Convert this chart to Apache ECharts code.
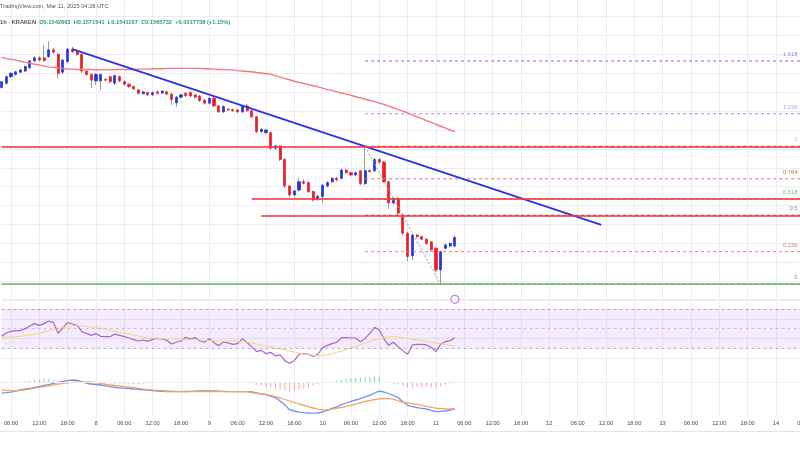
<!DOCTYPE html>
<html><head><meta charset="utf-8">
<script src="https://cdn.jsdelivr.net/npm/echarts/dist/echarts.min.js"></script>
<style>html,body{margin:0;padding:0;background:#fff}#c{width:800px;height:450px}</style>
</head><body><div id="c"></div>
<script>
// Hours counted from 2025-03-07 00:00 UTC; one candle per hour (1h, KRAKEN)
const startHour = 4;      // first candle: Mar 7 04:00
const axisEndHour = 174;  // right end of the time axis
const candleOpen = [
0.1962,0.1974,0.1991,0.1997,0.2003,0.2006,0.2015,0.2033,0.2041,0.2041,
0.2044,0.2062,0.2050,0.2003,0.2031,0.2064,0.2057,0.2050,0.2006,0.1997,
0.1980,0.1980,0.1984,0.1991,0.1974,0.1991,0.1978,0.1971,0.1965,0.1956,
0.1946,0.1949,0.1943,0.1951,0.1948,0.1951,0.1945,0.1922,0.1937,0.1947,
0.1949,0.1943,0.1940,0.1929,0.1921,0.1934,0.1914,0.1898,0.1905,0.1904,
0.1903,0.1898,0.1914,0.1901,0.1885,0.1846,0.1843,0.1843,0.1802,0.1808,
0.1772,0.1702,0.1678,0.1691,0.1713,0.1711,0.1687,0.1667,0.1674,0.1702,
0.1713,0.1722,0.1722,0.1744,0.1737,0.1731,0.1742,0.1708,0.1743,0.1742,
0.1772,0.1765,0.1713,0.1657,0.1669,0.1625,0.1577,0.1517,0.1572,0.1568,
0.1561,0.1554,0.1537,0.1480,0.1537,0.1543,0.1542863];
const candleClose = [
0.1978,0.1991,0.2000,0.2004,0.2009,0.2018,0.2033,0.2041,0.2035,0.2034,
0.2062,0.2056,0.2000,0.2035,0.2064,0.2057,0.2050,0.2006,0.1997,0.1982,
0.1997,0.1997,0.1982,0.1978,0.1994,0.1980,0.1971,0.1965,0.1959,0.1947,
0.1951,0.1943,0.1949,0.1947,0.1953,0.1945,0.1931,0.1937,0.1943,0.1941,
0.1940,0.1937,0.1928,0.1921,0.1934,0.1914,0.1898,0.1912,0.1903,0.1901,
0.1898,0.1912,0.1901,0.1885,0.1846,0.1852,0.1850,0.1802,0.1808,0.1772,
0.1702,0.1678,0.1689,0.1713,0.1709,0.1687,0.1665,0.1675,0.1704,0.1711,
0.1722,0.1718,0.1744,0.1737,0.1731,0.1737,0.1708,0.1743,0.1740,0.1772,
0.1765,0.1713,0.1657,0.1669,0.1630,0.1577,0.1515,0.1572,0.1568,0.1561,
0.1550,0.1533,0.1480,0.1528,0.1546,0.1550,0.1565732];
const candleLow = [
0.1957,0.1969,0.1988,0.1994,0.2000,0.2003,0.2011,0.2029,0.2031,0.2030,
0.2041,0.2052,0.1987,0.1998,0.2027,0.2054,0.2047,0.2001,0.1993,0.1961,
0.1969,0.1956,0.1978,0.1973,0.1969,0.1976,0.1968,0.1961,0.1955,0.1944,
0.1943,0.1939,0.1940,0.1944,0.1945,0.1943,0.1916,0.1912,0.1933,0.1937,
0.1937,0.1933,0.1924,0.1917,0.1917,0.1910,0.1895,0.1895,0.1900,0.1898,
0.1895,0.1895,0.1898,0.1882,0.1842,0.1842,0.1839,0.1797,0.1797,0.1768,
0.1697,0.1673,0.1671,0.1687,0.1706,0.1683,0.1661,0.1662,0.1657,0.1698,
0.1710,0.1714,0.1719,0.1734,0.1727,0.1727,0.1704,0.1704,0.1736,0.1739,
0.1761,0.1710,0.1641,0.1652,0.1625,0.1572,0.1503,0.1506,0.1564,0.1558,
0.1546,0.1529,0.1474,0.1441,0.1534,0.1539,0.1541107];
const candleHigh = [
0.1982,0.1996,0.2003,0.2007,0.2011,0.2021,0.2035,0.2045,0.2045,0.2075,
0.2085,0.2066,0.2054,0.2039,0.2067,0.2070,0.2060,0.2052,0.2009,0.2001,
0.2001,0.2000,0.1986,0.1994,0.1997,0.1994,0.1981,0.1973,0.1968,0.1959,
0.1953,0.1952,0.1952,0.1955,0.1956,0.1955,0.1948,0.1940,0.1945,0.1950,
0.1952,0.1945,0.1943,0.1932,0.1937,0.1937,0.1916,0.1915,0.1907,0.1907,
0.1906,0.1915,0.1919,0.1904,0.1888,0.1855,0.1853,0.1846,0.1810,0.1810,
0.1776,0.1704,0.1691,0.1723,0.1720,0.1714,0.1690,0.1678,0.1707,0.1714,
0.1726,0.1726,0.1748,0.1747,0.1740,0.1740,0.1744,0.1806,0.1746,0.1776,
0.1776,0.1768,0.1716,0.1673,0.1673,0.1629,0.1580,0.1576,0.1575,0.1571,
0.1564,0.1556,0.1540,0.1531,0.1550,0.1554,0.1571541];
const movingAvg = [
0.2042,0.2039,0.2037,0.2035,0.2032,0.2029,0.2027,0.2024,0.2022,0.2019,
0.2017,0.2016,0.2014,0.2013,0.2011,0.2011,0.2010,0.2010,0.2010,0.2010,
0.2009,0.2009,0.2009,0.2009,0.2010,0.2010,0.2010,0.2010,0.2010,0.2011,
0.2011,0.2011,0.2012,0.2012,0.2012,0.2013,0.2013,0.2013,0.2013,0.2013,
0.2013,0.2013,0.2013,0.2012,0.2012,0.2011,0.2010,0.2010,0.2009,0.2009,
0.2007,0.2006,0.2005,0.2004,0.2002,0.2001,0.1999,0.1998,0.1994,0.1990,
0.1986,0.1983,0.1979,0.1976,0.1973,0.1970,0.1967,0.1964,0.1961,0.1957,
0.1955,0.1951,0.1948,0.1945,0.1942,0.1938,0.1935,0.1932,0.1928,0.1925,
0.1921,0.1918,0.1913,0.1909,0.1904,0.1900,0.1895,0.1890,0.1885,0.1880,
0.1875,0.1870,0.1865,0.1860,0.1855,0.1850,0.1846];
const rsiValues = [
42.2,45.6,47.3,47.9,47.9,50.0,52.7,55.1,53.4,55.1,
57.8,56.1,45.2,51.3,56.1,54.7,53.4,46.9,45.2,43.2,
44.9,42.2,41.8,41.8,44.5,43.2,41.8,40.5,38.8,37.4,
38.4,37.1,39.1,40.1,39.5,38.1,34.4,36.1,37.4,41.2,
39.5,40.8,37.4,36.1,39.8,35.7,32.7,36.4,35.4,34.0,
34.7,39.8,35.7,31.7,26.6,27.9,24.5,25.9,22.2,23.2,
17.4,14.7,17.4,23.9,24.9,23.9,21.8,23.9,30.6,33.0,
34.7,36.1,40.8,40.8,40.5,40.5,36.7,40.1,45.2,51.3,
48.6,39.5,33.0,36.1,31.7,27.6,23.9,33.4,34.0,34.0,
33.4,31.0,26.6,34.4,36.7,37.8,40.8];
const rsiMA = [
40.8,41.2,41.5,41.8,42.2,42.9,43.5,44.5,45.6,46.6,
47.9,49.0,50.0,51.0,52.0,52.7,53.0,52.7,52.0,51.7,
51.0,50.3,49.3,48.3,47.3,46.3,45.6,44.5,43.5,42.5,
41.5,40.8,40.5,40.1,39.8,39.5,39.5,39.3,39.1,39.1,
38.8,38.8,38.4,38.1,37.8,37.8,37.4,37.4,37.4,37.4,
37.1,36.7,36.1,35.4,34.4,33.4,32.3,31.3,30.3,29.3,
28.3,27.2,26.2,25.2,24.2,23.5,22.8,22.2,22.5,23.2,
24.5,25.9,27.2,28.9,30.3,32.0,33.7,35.4,37.1,38.4,
39.8,41.2,41.5,41.8,41.5,40.8,40.1,39.5,38.4,37.8,
36.7,36.1,35.4,34.7,33.7,33.0,32.7];
const macdLine = [
-0.00105,-0.00100,-0.00094,-0.00083,-0.00073,-0.00063,-0.00056,-0.00046,-0.00036,-0.00026,
-0.00020,-0.00006,0.00004,0.00014,0.00020,0.00027,0.00024,0.00010,-0.00006,-0.00013,
-0.00018,-0.00023,-0.00031,-0.00040,-0.00048,-0.00051,-0.00055,-0.00058,-0.00063,-0.00066,
-0.00071,-0.00075,-0.00078,-0.00083,-0.00086,-0.00090,-0.00090,-0.00090,-0.00090,-0.00088,
-0.00086,-0.00084,-0.00083,-0.00083,-0.00083,-0.00083,-0.00084,-0.00087,-0.00090,-0.00090,
-0.00090,-0.00090,-0.00090,-0.00092,-0.00103,-0.00113,-0.00120,-0.00136,-0.00150,-0.00183,
-0.00223,-0.00270,-0.00283,-0.00295,-0.00300,-0.00303,-0.00305,-0.00303,-0.00293,-0.00276,
-0.00256,-0.00243,-0.00220,-0.00203,-0.00186,-0.00173,-0.00160,-0.00141,-0.00126,-0.00103,
-0.00085,-0.00093,-0.00108,-0.00130,-0.00150,-0.00190,-0.00226,-0.00240,-0.00250,-0.00256,
-0.00263,-0.00276,-0.00290,-0.00286,-0.00283,-0.00273,-0.00263];
const signalLine = [
-0.00074,-0.00077,-0.00080,-0.00082,-0.00076,-0.00070,-0.00063,-0.00054,-0.00046,-0.00040,
-0.00032,-0.00024,-0.00014,-0.00006,-0.00002,0.00004,0.00007,0.00009,0.00007,0.00005,
0.00000,-0.00007,-0.00017,-0.00023,-0.00028,-0.00034,-0.00040,-0.00045,-0.00050,-0.00057,
-0.00064,-0.00070,-0.00075,-0.00077,-0.00080,-0.00083,-0.00085,-0.00087,-0.00089,-0.00090,
-0.00090,-0.00090,-0.00090,-0.00090,-0.00090,-0.00090,-0.00090,-0.00090,-0.00090,-0.00090,
-0.00090,-0.00090,-0.00090,-0.00099,-0.00104,-0.00110,-0.00116,-0.00126,-0.00140,-0.00153,
-0.00168,-0.00183,-0.00198,-0.00213,-0.00226,-0.00240,-0.00253,-0.00265,-0.00271,-0.00271,
-0.00265,-0.00256,-0.00246,-0.00237,-0.00227,-0.00214,-0.00201,-0.00187,-0.00178,-0.00170,
-0.00162,-0.00158,-0.00159,-0.00164,-0.00183,-0.00194,-0.00202,-0.00209,-0.00216,-0.00227,
-0.00236,-0.00246,-0.00254,-0.00258,-0.00262,-0.00263,-0.00263];
const macdHist = [
-0.00007,-0.00006,-0.00004,-0.00002,0.00001,0.00017,0.00020,0.00027,0.00033,0.00040,
0.00043,0.00027,0.00012,0.00010,0.00010,0.00008,0.00004,-0.00004,-0.00013,-0.00020,
-0.00020,-0.00017,-0.00023,-0.00020,-0.00008,-0.00010,-0.00013,-0.00017,-0.00020,-0.00017,
-0.00010,-0.00007,-0.00003,-0.00002,-0.00001,-0.00001,-0.00003,-0.00002,0.00001,0.00002,
0.00002,0.00003,0.00002,0.00001,0.00002,0.00001,-0.00001,-0.00002,-0.00001,-0.00001,
0,0.00001,-0.00003,-0.00007,-0.00023,-0.00030,-0.00040,-0.00050,-0.00057,-0.00070,
-0.00080,-0.00097,-0.00080,-0.00070,-0.00060,-0.00050,-0.00030,-0.00017,-0.00003,0.00005,
0.00010,0.00020,0.00027,0.00037,0.00043,0.00050,0.00050,0.00057,0.00060,0.00067,
0.00060,0.00010,0.00003,-0.00010,-0.00017,-0.00030,-0.00050,-0.00057,-0.00040,-0.00047,
-0.00043,-0.00050,-0.00057,-0.00040,-0.00020,-0.00010,0];
// drawn annotations (hour, price)
const trendHours = [19, 131];
const trendPrices = [0.2064, 0.1599];
const fibDiagHours = [81, 97];
const fibDiagPrices = [0.1806, 0.1441];
const resistPrices = [0.1806, 0.1667, 0.1623];
const resistStartHours = [4, 57, 59];
const supportPrice = 0.1442;
const fibLevels = [0, 0.236, 0.5, 0.618, 0.764, 1, 1.236, 1.618];
const fibLow = 0.1442, fibHigh = 0.1807, fibStartHour = 81;
const fibLineColors = ['#8d8d8d','#f07a7a','#a03a3a','#5cb85c','#ee6b6b','#b04444','#b98ae6','#6f6ff0'];
const fibLabelColors = ['#707070','#d9534f','#6b6b6b','#4caf50','#c0392b','#86a9d4','#b07fd9','#6f6fe0'];
const alertHour = 100, alertPrice = 0.1402;
const headerLine1 = 'TradingView.com, Mar 11, 2025 04:28 UTC';
const headerLine2 = ['1h - KRAKEN', 'O0.1542863', 'H0.1571541', 'L0.1541107', 'C0.1565732', '+0.0017738 (+1.15%)'];

const hours = [];
for (let h = startHour; h <= axisEndHour; h++) hours.push(h);
const cats = hours.map(h => 'Mar ' + (7 + Math.floor(h / 24)) + ' ' + String(h % 24).padStart(2, '0') + ':00');
const idx = h => h - startHour;
const tickLabel = i => { const h = hours[i], hh = h % 24; return hh === 0 ? String(7 + h / 24) : String(hh).padStart(2, '0') + ':00'; };
const isTick = i => hours[i] % 6 === 0;
const lastIdx = hours.length - 1;

const FONT = 'Liberation Sans, Arial, sans-serif';
const GRID_COLOR = '#ebedf2';
const UP = '#2135e0', DOWN = '#ee1c24';

const ohlc = candleOpen.map((o, i) => [o, candleClose[i], candleLow[i], candleHigh[i]]);
const bodies = candleOpen.map((o, i) => [o, candleClose[i], Math.min(o, candleClose[i]), Math.max(o, candleClose[i])]);

function xAxisFor(gi, showLabels) {
  return {
    type: 'category', gridIndex: gi, data: cats, boundaryGap: false,
    axisTick: { show: false },
    axisLine: { show: showLabels, lineStyle: { color: '#c3c6cc', width: 1 } },
    axisLabel: { show: showLabels, interval: (i) => isTick(i), formatter: (v, i) => tickLabel(i),
      fontSize: 5.7, color: '#4a4a4a', margin: 4, fontFamily: FONT, hideOverlap: false },
    splitLine: { show: true, interval: (i) => isTick(i), lineStyle: { color: GRID_COLOR, width: 1 } }
  };
}
const gridBase = { left: 1.56, width: 802.7, outerBoundsMode: 'none', containLabel: false };

// resistance / support lines series (markLines on an empty-style helper)
const levelLines = [];
resistPrices.forEach((p, k) => {
  const st = { color: 'rgba(240,60,60,0.8)', width: 2, type: 'solid' };
  levelLines.push([{ coord: [idx(resistStartHours[k]), p], lineStyle: st }, { coord: [lastIdx, p], lineStyle: st }]);
});
const gst = { color: '#5cb860', width: 1.6, type: 'solid' };
levelLines.push([{ coord: [0, supportPrice], lineStyle: gst }, { coord: [lastIdx, supportPrice], lineStyle: gst }]);

const fibSeries = fibLevels.map((L, k) => {
  const p = fibLow + L * (fibHigh - fibLow);
  return { type: 'line', name: 'fib ' + L, xAxisIndex: 0, yAxisIndex: 0, silent: true,
    data: [[idx(fibStartHour), p], [lastIdx, p]], showSymbol: false, symbol: 'none',
    lineStyle: { color: fibLineColors[k], width: 1, type: [3, 3] }, z: 3 };
});

const option = {
  animation: false,
  backgroundColor: '#ffffff',
  title: [
    { text: headerLine1, left: 0, top: 3, padding: 0,
      textStyle: { fontSize: 5.7, color: '#555', fontWeight: 'normal', fontFamily: FONT } },
    { text: '{g|' + headerLine2[0] + '}  ' + headerLine2.slice(1).map(s => '{v|' + s + '}').join('  '),
      left: 0, top: 19, padding: 0,
      textStyle: { fontSize: 5.7, fontFamily: FONT, rich: {
        g: { fontSize: 5.7, color: '#555', fontFamily: FONT },
        v: { fontSize: 5.7, color: '#2e9e6a', fontFamily: FONT } } } }
  ],
  graphic: [{ type: 'line', silent: true, shape: { x1: 0, y1: 431.5, x2: 800, y2: 431.5 }, style: { stroke: '#e3e5e9', lineWidth: 1 } }],
  grid: [
    Object.assign({ top: -2.27, height: 302.35 }, gridBase),
    Object.assign({ top: 299.2, height: 58.9 }, gridBase),
    Object.assign({ top: 358.1, height: 58.6 }, gridBase)
  ],
  xAxis: [xAxisFor(0, false), xAxisFor(1, false), xAxisFor(2, true)],
  yAxis: [
    { type: 'value', gridIndex: 0, min: 0.14, max: 0.22, interval: 0.005, scale: true,
      axisLabel: { show: false }, axisLine: { show: false }, axisTick: { show: false },
      splitLine: { show: true, lineStyle: { color: GRID_COLOR, width: 1 } } },
    { type: 'value', gridIndex: 1, min: 20, max: 80, interval: 20,
      axisLabel: { show: false }, axisLine: { show: false }, axisTick: { show: false },
      splitLine: { show: true, lineStyle: { color: GRID_COLOR, width: 1 } } },
    { type: 'value', gridIndex: 2, min: -0.0034, max: 0.00246,
      axisLabel: { show: false }, axisLine: { show: false }, axisTick: { show: false },
      splitLine: { show: false } }
  ],
  series: [
    { type: 'candlestick', name: 'wicks', xAxisIndex: 0, yAxisIndex: 0, data: ohlc, barWidth: 1,
      itemStyle: { color: '#9a9a9a', color0: '#9a9a9a', borderColor: '#9a9a9a', borderColor0: '#9a9a9a', borderWidth: 1 },
      silent: true,
      markLine: { silent: true, symbol: ['none', 'none'], label: { show: false }, animation: false, data: levelLines } },
    { type: 'candlestick', name: 'bodies', xAxisIndex: 0, yAxisIndex: 0, data: bodies, barWidth: 2.6,
      itemStyle: { color: UP, color0: DOWN, borderColor: UP, borderColor0: DOWN, borderWidth: 0.7 },
      silent: true },
    ...fibSeries,
    { type: 'line', name: 'MA', xAxisIndex: 0, yAxisIndex: 0, data: movingAvg, showSymbol: false, symbol: 'none',
      lineStyle: { color: '#f47a7f', width: 1.4 }, silent: true },
    { type: 'line', name: 'trend', xAxisIndex: 0, yAxisIndex: 0,
      data: trendHours.map((h, k) => [idx(h), trendPrices[k]]), showSymbol: false, symbol: 'none',
      lineStyle: { color: '#2a35e6', width: 2 }, silent: true },
    { type: 'line', name: 'fibDiag', xAxisIndex: 0, yAxisIndex: 0,
      data: fibDiagHours.map((h, k) => [idx(h), fibDiagPrices[k]]), showSymbol: false, symbol: 'none',
      lineStyle: { color: '#a0a0a0', width: 1, type: [2, 2] }, silent: true },
    { type: 'scatter', name: 'fibLabels', xAxisIndex: 0, yAxisIndex: 0, symbolSize: 0, silent: true,
      data: fibLevels.map((L, k) => ({ value: [lastIdx - 1, fibLow + L * (fibHigh - fibLow)],
        label: { color: fibLabelColors[k] } })),
      label: { show: true, position: 'left', distance: 2, offset: [0, -6.5], fontSize: 5.8, fontFamily: FONT,
        formatter: (p) => String(fibLevels[p.dataIndex]) } },
    { type: 'scatter', name: 'alert', xAxisIndex: 0, yAxisIndex: 0, silent: true,
      data: [[idx(alertHour), alertPrice]], symbol: 'circle', symbolSize: 8,
      itemStyle: { color: 'rgba(0,0,0,0)', borderColor: '#b36ad6', borderWidth: 1.2 } },
    { type: 'line', name: 'RSI', xAxisIndex: 1, yAxisIndex: 1, data: rsiValues, showSymbol: false, symbol: 'none',
      clip: false, lineStyle: { color: '#a864c8', width: 1.2 }, silent: true,
      markArea: { silent: true, itemStyle: { color: 'rgba(155,80,230,0.11)' }, data: [[{ yAxis: 30 }, { yAxis: 70 }]] },
      markLine: { silent: true, symbol: ['none', 'none'], label: { show: false },
        data: [
          { yAxis: 70, lineStyle: { color: 'rgba(140,110,180,0.55)', width: 1, type: [3, 3] } },
          { yAxis: 50, lineStyle: { color: 'rgba(140,110,180,0.35)', width: 1, type: [3, 3] } },
          { yAxis: 30, lineStyle: { color: 'rgba(140,110,180,0.55)', width: 1, type: [3, 3] } }
        ] } },
    { type: 'line', name: 'RSI MA', xAxisIndex: 1, yAxisIndex: 1, data: rsiMA, showSymbol: false, symbol: 'none',
      clip: false, lineStyle: { color: '#f7d77a', width: 1 }, silent: true },
    { type: 'bar', name: 'Histogram', xAxisIndex: 2, yAxisIndex: 2, data: macdHist, barWidth: 1, silent: true,
      itemStyle: { color: (p) => p.value >= 0 ? 'rgba(38,166,154,0.55)' : 'rgba(255,82,82,0.5)' },
      markLine: { silent: true, symbol: ['none', 'none'], label: { show: false },
        data: [
          { yAxis: 0, lineStyle: { color: 'rgba(120,123,134,0.5)', width: 1, type: [3, 3] } },
          { yAxis: 0.00147, lineStyle: { color: '#eceef2', width: 1, type: 'solid' } }
        ] } },
    { type: 'line', name: 'MACD', xAxisIndex: 2, yAxisIndex: 2, data: macdLine, showSymbol: false, symbol: 'none',
      lineStyle: { color: '#6b95f5', width: 1.3 }, silent: true },
    { type: 'line', name: 'Signal', xAxisIndex: 2, yAxisIndex: 2, data: signalLine, showSymbol: false, symbol: 'none',
      lineStyle: { color: '#f7a35c', width: 1.3 }, silent: true }
  ]
};
const chart = echarts.init(document.getElementById('c'), null, { renderer: 'canvas' });
chart.setOption(option);
</script>
</body></html>
